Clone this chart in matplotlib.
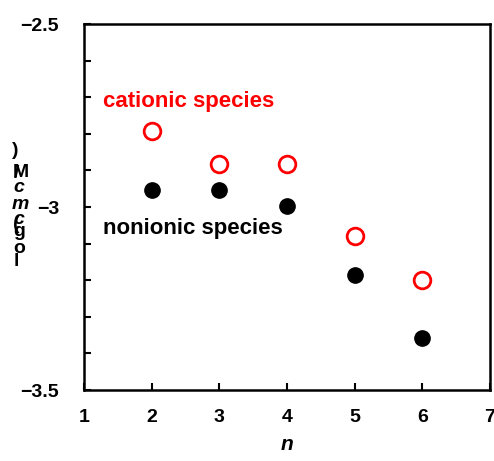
import numpy as np
import matplotlib
matplotlib.use('Agg')
import matplotlib.pyplot as plt

plt.rcParams['font.family'] = ['Liberation Sans', 'DejaVu Sans']
plt.rcParams['font.weight'] = 'bold'

# chain length n vs log(cmc/M)
n = [2, 3, 4, 5, 6]
cationic = [-2.792, -2.883, -2.883, -3.079, -3.199]
nonionic = [-2.954, -2.954, -2.997, -3.186, -3.358]

y_ticks = [-3.5, -3.0, -2.5]
y_ticklabels = ['\u22123.5', '\u22123', '\u22122.5']
x_ticks = [1, 2, 3, 4, 5, 6, 7]

fig = plt.figure(figsize=(4.94, 4.61), dpi=100)
ax = fig.add_axes([84 / 494, 1 - 390 / 461, 406 / 494, 366 / 461])

ax.plot(n, nonionic, 'o', color='black', markersize=11, zorder=3)
ax.plot(n, cationic, 'o', mfc='none', mec='red', mew=2.0, markersize=12, zorder=3)

ax.text(1.28, -2.727, 'cationic species', color='red', fontsize=16,
        fontweight='bold', va='baseline', ha='left')
ax.text(1.28, -3.074, 'nonionic species', color='black', fontsize=16,
        fontweight='bold', va='baseline', ha='left')

ax.set_xlim(1, 7)
ax.set_ylim(-3.5, -2.5)
ax.set_xticks(x_ticks)
ax.set_xticklabels([str(v) for v in x_ticks], fontsize=14, fontweight='bold')
ax.set_yticks(y_ticks)
ax.set_yticklabels(y_ticklabels, fontsize=14, fontweight='bold')
ax.set_yticks(np.arange(-3.5, -2.49, 0.1), minor=True)
ax.tick_params(axis='both', which='both', direction='in', length=5, width=1.5)
ax.tick_params(axis='y', which='major', pad=18)
ax.tick_params(axis='x', which='major', pad=14)
for s in ax.spines.values():
    s.set_linewidth(1.8)

ax.set_xlabel('n', fontsize=15, fontstyle='italic', fontweight='bold', labelpad=6)

# stacked y label log(cmc/M), one upright character at a time (baselines in px)
ylab_chars = ['l', 'o', 'g', '(', 'c', 'm', 'c', '/', 'M', ')']
ylab_italic = [False, False, False, False, True, True, True, False, False, False]
ylab_base = [266, 253, 236, 229, 224, 209, 192, 178, 177, 155]
ylab_xpix = [16, 19, 19, 16, 19, 20, 19, 17, 21, 15]
for ch, it, yp, xp in zip(ylab_chars, ylab_italic, ylab_base, ylab_xpix):
    fig.text(xp / 494, 1 - yp / 461, ch, fontsize=14, fontweight='bold',
             fontstyle='italic' if it else 'normal', ha='center', va='baseline')

fig.savefig('out.png', dpi=100)
